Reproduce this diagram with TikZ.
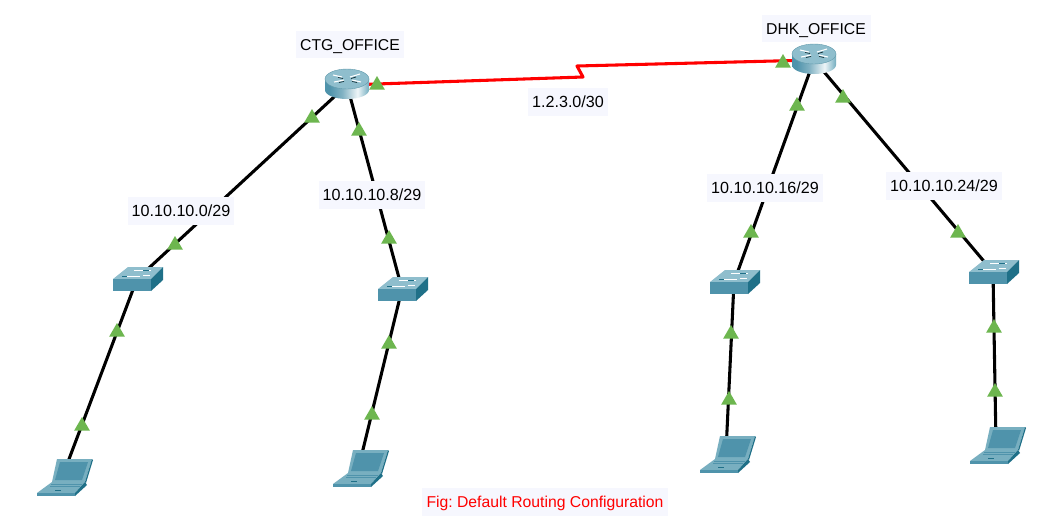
\documentclass[tikz,border=0pt]{standalone}
\usepackage{fontspec}
\setmainfont{Liberation Sans}
\usetikzlibrary{shapes.geometric}
\definecolor{tealA}{HTML}{4F93AB}
\definecolor{tealB}{HTML}{78AFC0}
\definecolor{tealC}{HTML}{1F7088}
\definecolor{tealD}{HTML}{8FBECD}
\definecolor{labelbg}{HTML}{F6F7FE}
\definecolor{tri}{HTML}{6DB64F}
\pgfdeclarehorizontalshading{routerbody}{100bp}{
  color(0bp)=(tealA); color(30bp)=(tealA); color(45bp)=(tealA!70!white);
  color(62bp)=(white!85!tealD); color(72bp)=(tealD); color(85bp)=(tealC); color(100bp)=(tealC)}
\tikzset{
  x=0.75pt,y=-0.75pt,
  link/.style={line width=2.3pt,black},
  serial/.style={line width=2.3pt,red,line join=round},
  lbl/.style={fill=labelbg,inner xsep=3.5pt,inner ysep=0pt,minimum height=20.5pt,text height=10pt,text depth=1.4pt,font=\fontsize{11.8}{14}\selectfont\frenchspacing,text=black},
  netlbl/.style={lbl,font=\fontsize{12.1}{14}\selectfont\frenchspacing,inner xsep=3pt},
  figcap/.style={lbl,text=red},
  up/.style={regular polygon,regular polygon sides=3,fill=tri,inner sep=0pt,minimum size=13.5pt},
  routerpic/.pic={
    \path[shading=routerbody]
      (-22,-6) -- (-22,5) arc[start angle=180,end angle=0,x radius=22,y radius=9] -- (22,-6) -- cycle;
    \path[fill=tealD,draw=tealC!70,line width=.3pt] (0,-6) ellipse[x radius=22,y radius=10];
    \draw[white,line width=.8pt] (-14,-10) -- (-5,-8) (5,-5) -- (14,-3) (-13,-3) -- (-3,-5) (3,-8) -- (13,-11);
    \draw[black!70!tealC,line width=.5pt] (-9,-7.5) -- (-4,-6.5) (5,-3.5) -- (10,-2.5) (-8,-2.5) -- (-3,-3.5) (4,-6.5) -- (9,-8);
  },
  switchpic/.pic={
    \path[fill=tealD] (-24,0) -- (-9,-12) -- (26,-12) -- (14,0) -- cycle;
    \path[fill=tealA] (-24,0) -- (14,0) -- (14,12) -- (-24,12) -- cycle;
    \path[fill=tealC] (14,0) -- (26,-12) -- (26,1) -- (14,12) -- cycle;
    \draw[white,line width=.7pt] (-3,-9) -- (14,-9) (-12,-3) -- (3,-3) (6,-4) -- (13,-4);
    \draw[tealC,line width=.5pt] (-15,-2.5) -- (-10,-2.5) (6,-9) -- (12,-9);
  },
  laptoppic/.pic={
    \path[fill=tealB] (-6,-16) -- (29,-16) -- (22,7) -- (-11,7) -- cycle;
    \path[fill=tealA] (-3,-13) -- (25,-13) -- (19,5) -- (-8,5) -- cycle;
    \path[fill=tealC] (29,-16) -- (30,-15) -- (23,8) -- (22,7) -- cycle;
    \path[fill=tealB] (-11,7) -- (22,7) -- (12,18) -- (-26,18) -- cycle;
    \path[fill=tealA] (-26,18) -- (12,18) -- (12,21) -- (-26,21) -- cycle;
    \path[fill=tealC] (12,18) -- (22,7) -- (24,10) -- (12,21) -- cycle;
    \draw[tealA,line width=.5pt] (-12,9) -- (19,9) (-13,11) -- (17,11);
    \draw[tealC,line width=.5pt] (-8,15) -- (-2,15);
  },
}
\begin{document}
\begin{tikzpicture}
\useasboundingbox[fill=white] (0,0) rectangle (1046,519);
% device positions
\coordinate (ctg) at (347,85);
\coordinate (dhk) at (814,60);
\coordinate (s1) at (137,279);
\coordinate (s2) at (402,289);
\coordinate (s3) at (734,282);
\coordinate (s4) at (993,272);
\coordinate (l1) at (63,475);
\coordinate (l2) at (359,466);
\coordinate (l3) at (726,452);
\coordinate (l4) at (996,443);
\coordinate (z1) at (583,77);
\coordinate (z2) at (577,66);
% connectors
\draw[link] (l1) -- (s1);
\draw[link] (s1) -- (ctg);
\draw[link] (l2) -- (s2);
\draw[link] (s2) -- (ctg);
\draw[link] (l3) -- (s3);
\draw[link] (s3) -- (dhk);
\draw[link] (l4) -- (s4);
\draw[link] (s4) -- (dhk);
\draw[serial] (ctg) -- (z1) -- (z2) -- (dhk);
% devices
\pic at (ctg) {routerpic};
\pic at (dhk) {routerpic};
\pic at (s1) {switchpic};
\pic at (s2) {switchpic};
\pic at (s3) {switchpic};
\pic at (s4) {switchpic};
\pic at (l1) {laptoppic};
\pic at (l2) {laptoppic};
\pic at (l3) {laptoppic};
\pic at (l4) {laptoppic};
% link lights
\node[up] (t1) at (82,426) {};
\node[up] (t2) at (117,332) {};
\node[up] (t3) at (175,245) {};
\node[up] (t4) at (312,118) {};
\node[up] (t5) at (372,415) {};
\node[up] (t6) at (389,344) {};
\node[up] (t7) at (389,239) {};
\node[up] (t8) at (359,131) {};
\node[up] (t9) at (729,400) {};
\node[up] (t10) at (731,334) {};
\node[up] (t11) at (751,233) {};
\node[up] (t12) at (797,106) {};
\node[up] (t13) at (995,392) {};
\node[up] (t14) at (994,328) {};
\node[up] (t15) at (958,233) {};
\node[up] (t16) at (843,98) {};
\node[up] (t17) at (377,85) {};
\node[up] (t18) at (783,63) {};
% labels
\node[lbl] (n1) at (350,44.5) {CTG\_OFFICE};
\node[lbl] (n2) at (816,28.5) {DHK\_OFFICE};
\node[netlbl] (n3) at (181,211) {10.10.10.0/29};
\node[netlbl] (n4) at (372,195) {10.10.10.8/29};
\node[netlbl] (n5) at (568,102) {1.2.3.0/30};
\node[netlbl] (n6) at (765,188) {10.10.10.16/29};
\node[netlbl] (n7) at (944,186) {10.10.10.24/29};
\node[figcap] (n8) at (545,502) {Fig: Default Routing Configuration};
\end{tikzpicture}
\end{document}
